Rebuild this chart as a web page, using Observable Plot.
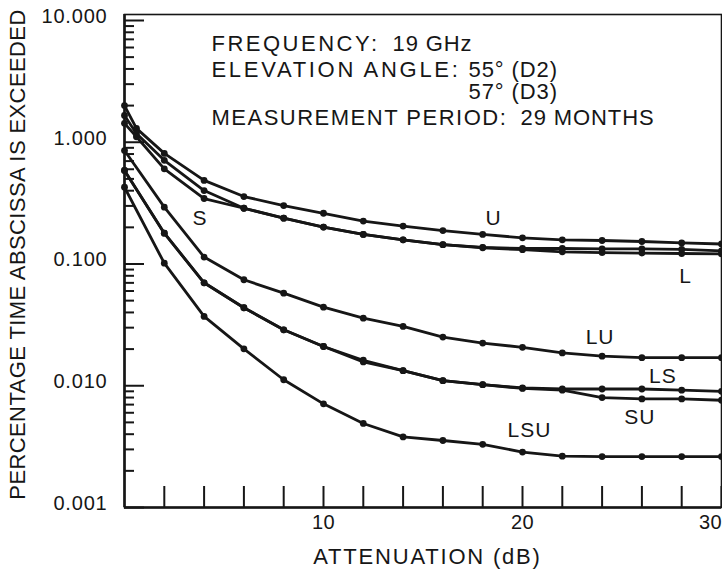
<!DOCTYPE html>
<html>
<head>
<meta charset="utf-8">
<script src="https://cdn.jsdelivr.net/npm/d3@7"></script>
<script src="https://cdn.jsdelivr.net/npm/@observablehq/plot@0.6"></script>
<style>
  html, body { margin: 0; padding: 0; background: #fff; overflow: hidden; }
  svg { display: block; }
  svg text { white-space: pre; }
  text[aria-label="note-l0"] { letter-spacing: 2.5px; }
  text[aria-label="note-l1"] { letter-spacing: 2.7px; }
  text[aria-label="note-l2"] { letter-spacing: 1.5px; }
  text[aria-label="note-r"] { letter-spacing: 0.9px; }
  text[aria-label="series label"] { letter-spacing: 1px; }
  g[aria-label="y-axis tick label"] text { letter-spacing: 0.8px; }
  g[aria-label="x-axis tick label"] text { letter-spacing: 0.5px; }
  text[aria-label="y title"] { letter-spacing: 0.4px; }
  text[aria-label="x title"] { letter-spacing: 1.8px; }
</style>
</head>
<body>
<div id="chart"></div>
<script>
// Attenuation (dB) sample points
const attenTop = [0, 0.6, 2, 4, 6, 8, 10, 12, 14, 16, 18, 20, 22, 24, 26, 28, 30];
const atten    = [0, 2, 4, 6, 8, 10, 12, 14, 16, 18, 20, 22, 24, 26, 28, 30];

// Percentage of time abscissa is exceeded
const U   = [2.0, 1.30, 0.81, 0.486, 0.358, 0.302, 0.261, 0.225, 0.205, 0.188, 0.175, 0.164, 0.158, 0.156, 0.153, 0.149, 0.146];
const L   = [1.66, 1.18, 0.71, 0.401, 0.287, 0.238, 0.201, 0.175, 0.158, 0.144, 0.136, 0.131, 0.126, 0.124, 0.123, 0.122, 0.121];
const S   = [1.43, 1.11, 0.605, 0.345, 0.287, 0.238, 0.201, 0.175, 0.158, 0.144, 0.137, 0.134, 0.134, 0.133, 0.133, 0.132, 0.128];
const LU  = [0.855, 0.293, 0.114, 0.0742, 0.0576, 0.0442, 0.0359, 0.0307, 0.0251, 0.0224, 0.0207, 0.0186, 0.0175, 0.0170, 0.0170, 0.0170];
const LS  = [0.586, 0.179, 0.0701, 0.0437, 0.0288, 0.0210, 0.0162, 0.0133, 0.0110, 0.0102, 0.0096, 0.0094, 0.0094, 0.0094, 0.0092, 0.0090];
const SU  = [0.586, 0.179, 0.0701, 0.0437, 0.0288, 0.0210, 0.0157, 0.0133, 0.0110, 0.0102, 0.0095, 0.0092, 0.0080, 0.0078, 0.0078, 0.0076];
const LSU = [0.427, 0.1015, 0.0371, 0.0201, 0.0112, 0.0071, 0.0049, 0.0038, 0.00355, 0.0033, 0.00285, 0.00264, 0.00262, 0.00262, 0.00262, 0.00262];

// Curve labels (anchored in data space)
const labelNames = ["U", "S", "L", "LU", "LS", "SU", "LSU"];
const labelAtten = [18.55, 3.8, 28.2, 23.9, 27.05, 25.9, 20.35];
const labelPct   = [0.239, 0.239, 0.079, 0.0251, 0.0119, 0.0055, 0.0043];

// Axis ticks
const yMajor = [0.001, 0.01, 0.1, 1, 10];
const yMinor = [0.001, 0.01, 0.1, 1].flatMap(d => [2, 3, 4, 5, 6, 7, 8, 9].map(m => +(m * d).toPrecision(3)));
const xTicks = [2, 4, 6, 8, 10, 12, 14, 16, 18, 20, 22, 24, 26, 28, 30];
const xTickLabels = [10, 20];
const xTickLabelEnd = [30];

// Notes
const notesLeft = ["FREQUENCY:", "ELEVATION ANGLE:", "MEASUREMENT PERIOD:"];
const notesRight = ["19 GHz", "55° (D2)", "57° (D3)", "29 MONTHS"];
const yTitle = "PERCENTAGE TIME ABSCISSA IS EXCEEDED";
const xTitle = "ATTENUATION (dB)";

const series = [
  {name: "U", x: attenTop, y: U},
  {name: "L", x: attenTop, y: L},
  {name: "S", x: attenTop, y: S},
  {name: "LU", x: atten, y: LU},
  {name: "LS", x: atten, y: LS},
  {name: "SU", x: atten, y: SU},
  {name: "LSU", x: atten, y: LSU}
];
const rows = series.flatMap(s => s.y.map((v, i) => ({series: s.name, atten: s.x[i], pct: v})));
const labels = labelNames.map((t, i) => ({text: t, atten: labelAtten[i], pct: labelPct[i]}));

const ink = "#161616";
const font = "'Liberation Sans', Arial, Helvetica, sans-serif";

function note(str, dx, dy, tag) {
  return Plot.text([str], {text: d => d, frameAnchor: "top-left", textAnchor: "start", lineAnchor: "bottom",
    dx, dy, fontSize: 22, fill: ink, ariaLabel: () => "note-" + tag});
}

const chart = Plot.plot({
  width: 722,
  height: 573,
  marginLeft: 124,
  marginRight: 1,
  marginTop: 14,
  marginBottom: 66,
  style: {fontFamily: font, background: "#fff", color: ink},
  x: {domain: [0, 30]},
  y: {type: "log", domain: [0.001, 11.2]},
  marks: [
    Plot.frame({stroke: ink, strokeWidth: 1.6}),
    Plot.ruleX([0], {stroke: ink, strokeWidth: 2.6}),
    Plot.ruleY([0.001], {stroke: ink, strokeWidth: 2.6}),
    // y ticks (inward)
    Plot.axisY(yMajor, {tickSize: -20, fill: "none", stroke: ink, strokeWidth: 2}),
    Plot.axisY(yMinor, {tickSize: -10, fill: "none", stroke: ink, strokeWidth: 2}),
    Plot.axisY(yMajor, {tickSize: 0, tickPadding: 17, tickFormat: d3.format(".3f"), fontSize: 20, dy: -4, label: null, fill: ink}),
    // x ticks (inward)
    Plot.axisX(xTicks, {tickSize: -21, fill: "none", stroke: ink, strokeWidth: 2}),
    Plot.axisX(xTickLabels, {tickSize: 0, tickPadding: 7, fontSize: 20, label: null, fill: ink}),
    Plot.axisX(xTickLabelEnd, {tickSize: 0, tickPadding: 7, fontSize: 20, label: null, fill: ink, dx: -11}),
    // titles
    Plot.text([yTitle], {text: d => d, frameAnchor: "left", textAnchor: "middle", rotate: -90, dx: -107, dy: -6.5, fontSize: 22, fill: ink, ariaLabel: () => "y title"}),
    Plot.text([xTitle], {text: d => d, frameAnchor: "bottom", textAnchor: "middle", dx: 4.5, dy: 56, fontSize: 22, fill: ink, ariaLabel: () => "x title"}),
    // notes
    note(notesLeft[0], 87, 36, "l0"),
    note(notesRight[0], 268, 36, "r"),
    note(notesLeft[1], 87, 62, "l1"),
    note(notesRight[1], 344, 62, "r"),
    note(notesRight[2], 344, 84.5, "r"),
    note(notesLeft[2], 87, 110.5, "l2"),
    note(notesRight[3], 396, 110.5, "r"),
    // curves
    Plot.line(rows, {x: "atten", y: "pct", z: "series", stroke: ink, strokeWidth: 2.8}),
    Plot.dot(rows, {x: "atten", y: "pct", r: 3.4, fill: ink, stroke: "none"}),
    Plot.text(labels, {x: "atten", y: "pct", text: "text", fontSize: 21, fill: ink, ariaLabel: () => "series label"})
  ]
});
document.getElementById("chart").appendChild(chart);
</script>
</body>
</html>
